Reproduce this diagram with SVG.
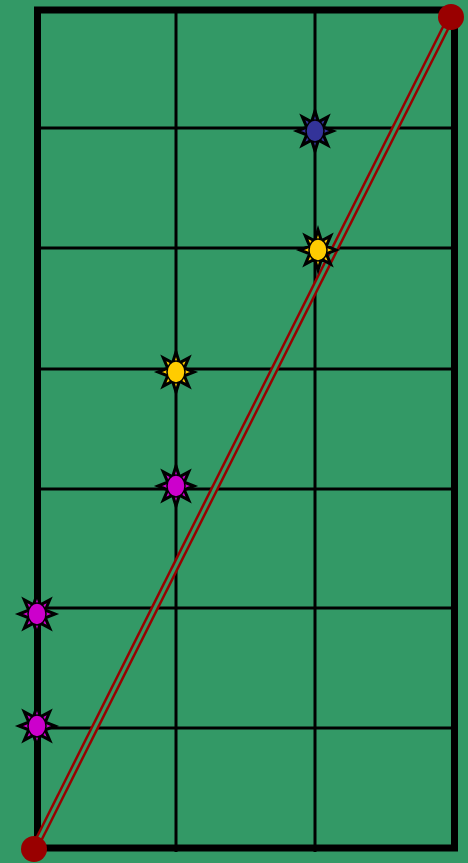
<svg xmlns="http://www.w3.org/2000/svg" xmlns:xlink="http://www.w3.org/1999/xlink" width="468" height="863" viewBox="0 0 468 863">
<style>
.grid{stroke:#000;stroke-width:3;fill:none}
.frame{stroke:#000;stroke-width:7;fill:none}
.star{stroke:#000;stroke-width:3;stroke-linejoin:miter}
.core{stroke:#000;stroke-width:1.5}
.pin{fill:#990000}
</style>
<defs>
<polygon id="star" points="0,-20 3.4,-9.2 12.7,-14.1 8.3,-3.8 18,0 8.3,3.8 12.7,14.1 3.4,9.2 0,20 -3.4,9.2 -12.7,14.1 -8.3,3.8 -18,0 -8.3,-3.8 -12.7,-14.1 -3.4,-9.2"/>
</defs>
<rect width="468" height="863" fill="#339966"/>
<g id="grid">
<line class="grid" x1="176" y1="9" x2="176" y2="852"/>
<line class="grid" x1="315" y1="9" x2="315" y2="852"/>
<line class="grid" x1="37" y1="128" x2="455" y2="128"/>
<line class="grid" x1="37" y1="248" x2="455" y2="248"/>
<line class="grid" x1="37" y1="369" x2="455" y2="369"/>
<line class="grid" x1="37" y1="489" x2="455" y2="489"/>
<line class="grid" x1="37" y1="608" x2="455" y2="608"/>
<line class="grid" x1="37" y1="728" x2="455" y2="728"/>
<rect class="frame" x="37.5" y="10" width="417" height="838"/>
</g>
<g id="connectors">
<line x1="34" y1="849" x2="451" y2="17" stroke="#990000" stroke-width="8"/>
<line x1="34" y1="849" x2="451" y2="17" stroke="#339966" stroke-width="3"/>
</g>
<g id="start"><circle class="pin" cx="34" cy="849" r="13"/></g>
<g id="end"><circle class="pin" cx="451" cy="17" r="13"/></g>
<g id="m1" transform="translate(315,131)"><use xlink:href="#star" class="star" fill="#333399"/><ellipse class="core" rx="9" ry="11" fill="#333399"/></g>
<g id="m2" transform="translate(318,250)"><use xlink:href="#star" class="star" fill="#ffcc00"/><ellipse class="core" rx="9" ry="11" fill="#ffcc00"/></g>
<g id="m3" transform="translate(176,372)"><use xlink:href="#star" class="star" fill="#ffcc00"/><ellipse class="core" rx="9" ry="11" fill="#ffcc00"/></g>
<g id="m4" transform="translate(176,486)"><use xlink:href="#star" class="star" fill="#cc00cc"/><ellipse class="core" rx="9" ry="11" fill="#cc00cc"/></g>
<g id="m5" transform="translate(37,614)"><use xlink:href="#star" class="star" fill="#cc00cc"/><ellipse class="core" rx="9" ry="11" fill="#cc00cc"/></g>
<g id="m6" transform="translate(37,726)"><use xlink:href="#star" class="star" fill="#cc00cc"/><ellipse class="core" rx="9" ry="11" fill="#cc00cc"/></g>
</svg>
